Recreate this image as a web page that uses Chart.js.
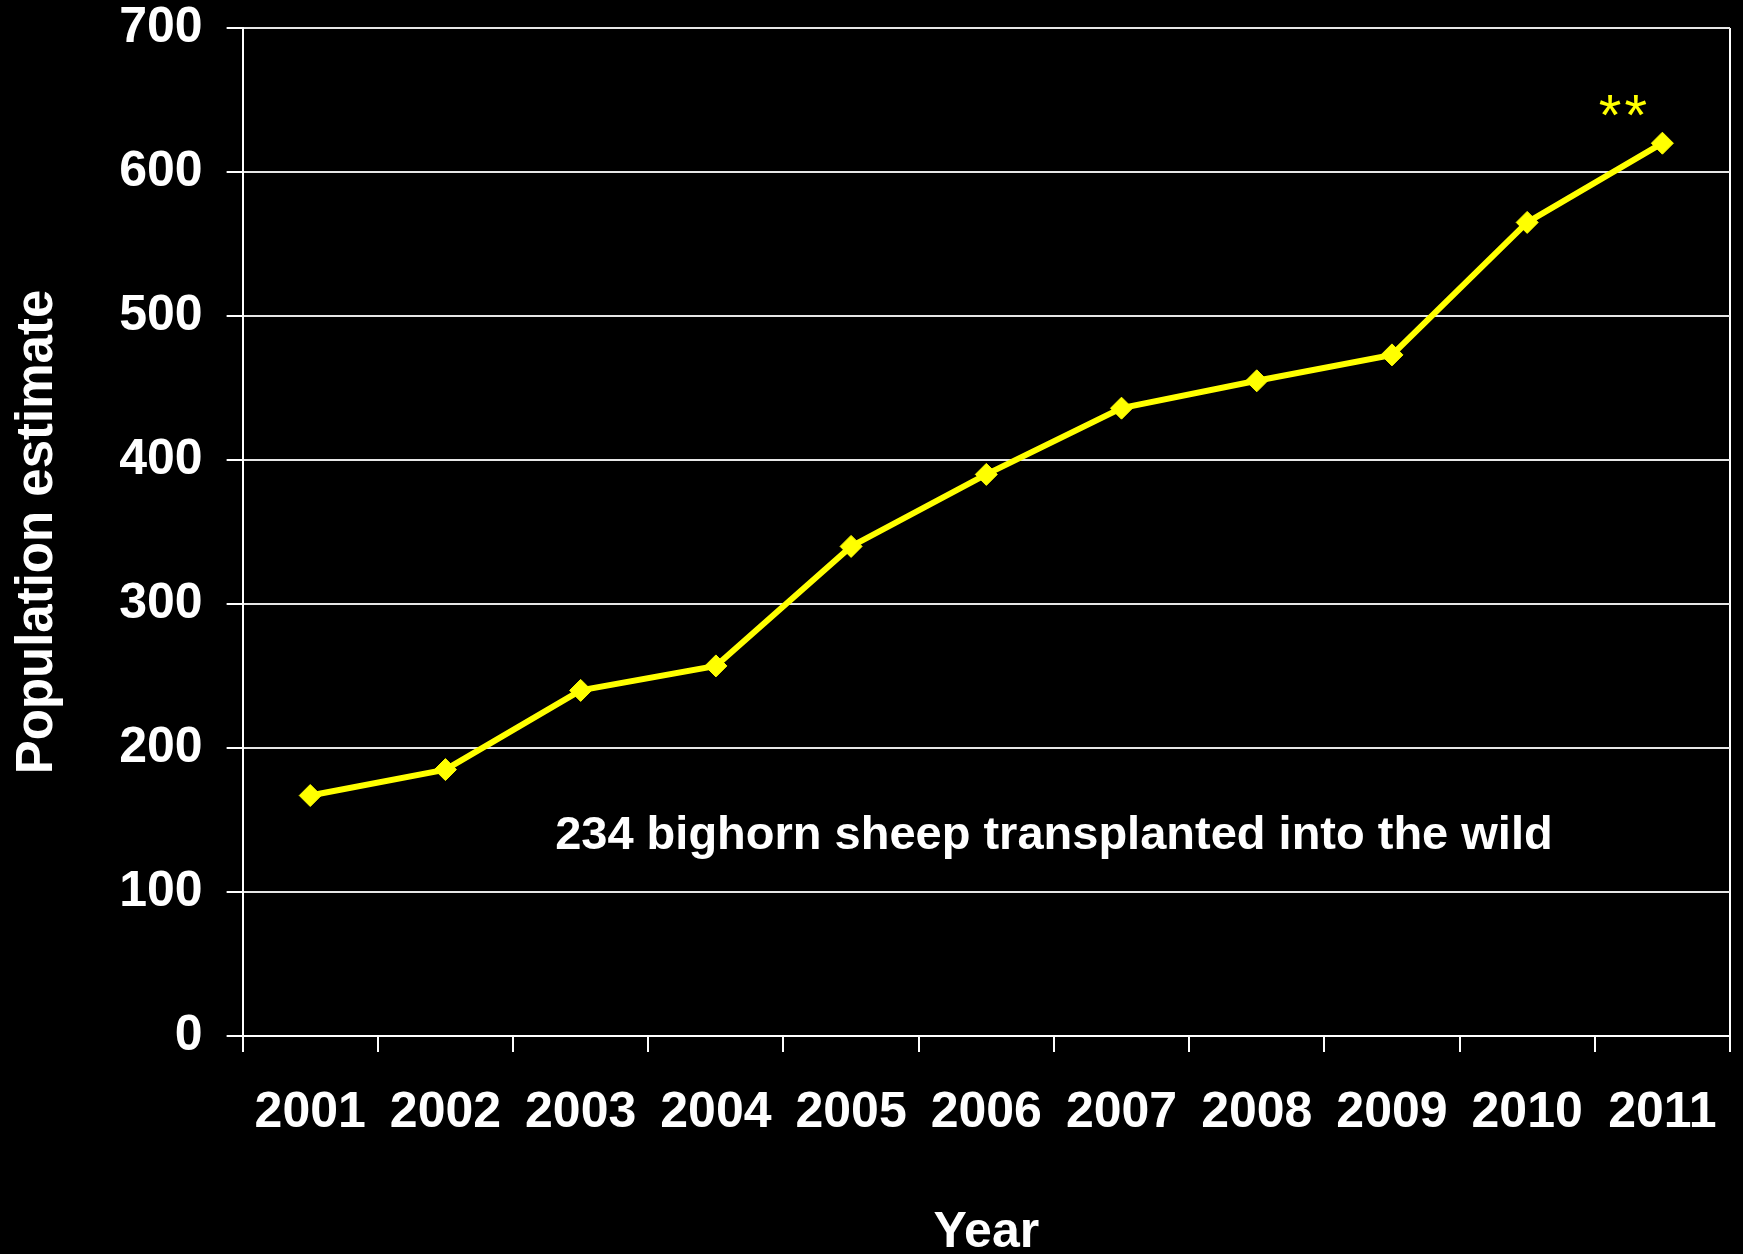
<!DOCTYPE html>
<html>
<head>
<meta charset="utf-8">
<script src="https://cdn.jsdelivr.net/npm/chart.js@4.4.0/dist/chart.umd.min.js"></script>
<style>
    html, body { margin: 0; padding: 0; background: #000; overflow: hidden; }
    #wrap { width: 1743px; height: 1262px; position: relative; }
</style>
</head>
<body>
<div id="wrap"><canvas id="lineChart"></canvas></div>
<script>
// data
const years = ['2001', '2002', '2003', '2004', '2005', '2006', '2007', '2008', '2009', '2010', '2011'];
const population = [167, 185, 240, 257, 340, 390, 436, 455, 473, 565, 620];
const yMin = 0;
const yMax = 700;
const yStep = 100;

const noteText = '234 bighorn sheep transplanted into the wild';
const starText = '**';

const white = '#ffffff';
const yellow = '#ffff00';
const fontFamily = '"Liberation Sans", Arial, sans-serif';

// text notes on the plot
const notesPlugin = {
    id: 'notes',
    afterDatasetsDraw(chart) {
        const ctx = chart.ctx;
        const x = chart.scales.x;
        const y = chart.scales.y;
        ctx.save();

        ctx.fillStyle = white;
        ctx.font = 'bold 47px ' + fontFamily;
        ctx.textAlign = 'center';
        ctx.textBaseline = 'alphabetic';
        ctx.fillText(noteText, x.getPixelForValue(5.5), y.getPixelForValue(130));

        ctx.fillStyle = yellow;
        ctx.font = '58px ' + fontFamily;
        ctx.letterSpacing = '3px';
        var last = population.length - 1;
        ctx.fillText(starText, x.getPixelForValue(last) - 38, y.getPixelForValue(population[last]) - 8);

        ctx.restore();
    }
};

var ctx = document.getElementById('lineChart').getContext('2d');
var myChart = new Chart(ctx, {
    type: 'line',
    data: {
        labels: years,
        datasets: [{
            label: 'Population estimate',
            data: population,
            borderColor: yellow,
            backgroundColor: yellow,
            borderWidth: 6,
            pointStyle: 'rectRot',
            pointRadius: 11,
            pointBorderWidth: 1,
            pointBackgroundColor: yellow,
            pointBorderColor: yellow,
            tension: 0
        }]
    },
    options: {
        responsive: true,
        maintainAspectRatio: false,
        animation: false,
        layout: {
            padding: { left: 7, right: 13, top: 0, bottom: 4 }
        },
        plugins: {
            legend: { display: false },
            tooltip: { enabled: false }
        },
        scales: {
            x: {
                offset: true,
                grid: {
                    offset: true,
                    drawOnChartArea: true,
                    // only the closing line on the right is drawn inside the plot
                    color: (c) => c.type === 'tick' ? 'rgba(0,0,0,0)' : white,
                    tickColor: white,
                    lineWidth: 2,
                    tickLength: 16
                },
                border: { display: true, color: white, width: 2 },
                ticks: {
                    color: white,
                    padding: 20,
                    maxRotation: 0,
                    font: { family: fontFamily, size: 50, weight: 'bold', lineHeight: 1.64 }
                },
                title: {
                    display: true,
                    text: 'Year',
                    color: white,
                    padding: { top: 34, bottom: 0 },
                    font: { family: fontFamily, size: 50, weight: 'bold', lineHeight: 1.0 }
                }
            },
            y: {
                min: yMin,
                max: yMax,
                grid: {
                    color: '#e6e6e6',
                    lineWidth: 2,
                    tickLength: 16,
                    tickColor: white
                },
                border: { display: true, color: white, width: 2 },
                ticks: {
                    stepSize: yStep,
                    color: white,
                    padding: 24,
                    font: { family: fontFamily, size: 50, weight: 'bold', lineHeight: 0.16 }
                },
                title: {
                    display: true,
                    text: 'Population estimate',
                    color: white,
                    padding: { top: 0, bottom: 27 },
                    font: { family: fontFamily, size: 51, weight: 'bold', lineHeight: 1.2 }
                }
            }
        }
    },
    plugins: [notesPlugin]
});
</script>
</body>
</html>
